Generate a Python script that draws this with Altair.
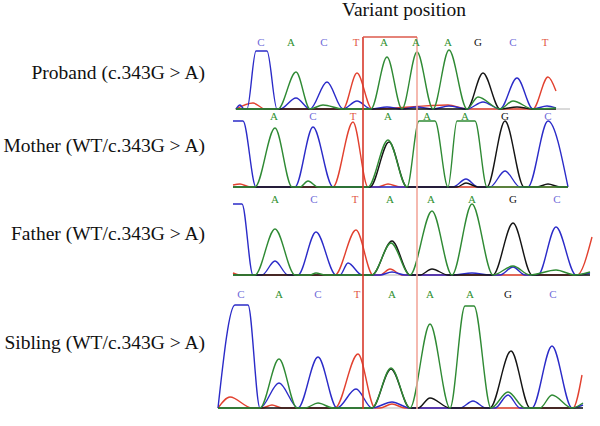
import altair as alt
import pandas as pd

# ---- sample rows (left-hand labels) -------------------------------------
SAMPLES = [
    "Proband (c.343G > A)",
    "Mother (WT/c.343G > A)",
    "Father (WT/c.343G > A)",
    "Sibling (WT/c.343G > A)",
]
# signal level of each track's baseline (in chart units, bottom = 0)
TRACK_BASE = [317, 239, 151, 18]
# vertical placement of the sample labels and the base-call rows
LABEL_LEVEL = [347, 274, 186, 77]
CALL_LEVEL = [383, 309, 226, 131]
# scan range covered by each track's baseline
TRACK_START = [235, 233, 233, 218]
TRACK_END = [570, 568, 590, 583]

# ---- base calls above each trace ------------------------------------------
PROBAND_CALLS = ["C", "A", "C", "T", "A", "A", "A", "G", "C", "T"]
PROBAND_CALL_POS = [261, 291, 324, 356, 384, 416, 448, 478, 513, 545]
MOTHER_CALLS = ["A", "C", "T", "A", "A", "A", "G", "C"]
MOTHER_CALL_POS = [274, 313, 353, 388, 427, 465, 505, 548]
FATHER_CALLS = ["A", "C", "T", "A", "A", "A", "G", "C"]
FATHER_CALL_POS = [275, 314, 355, 390, 431, 472, 513, 557]
SIBLING_CALLS = ["C", "A", "C", "T", "A", "A", "A", "G", "C"]
SIBLING_CALL_POS = [241, 279, 318, 357, 392, 430, 470, 508, 553]

# ---- fluorescence traces: (scan position, intensity above baseline) -----
PROBAND_A = [(236, 0), (278, 0), (296, 37), (310, 0), (323, 4), (343, 0), (371, 0), (387, 52),
             (402, 0), (417, 57), (433, 0), (449, 59), (467, 0), (478, 12), (500, 0), (513, 8),
             (533, 0), (556, 1)]
PROBAND_C = [(236, 0), (240, 4), (244, 0), (247, 0), (256, 58), (267, 58), (277, 0), (280, 0),
             (296, 11), (310, 0), (327, 27), (343, 0), (357, 8), (371, 0), (387, 2), (402, 0),
             (417, 2), (433, 0), (449, 3), (467, 0), (483, 7), (500, 0), (517, 31), (533, 0),
             (547, 3), (556, 1)]
PROBAND_G = [(236, 0), (467, 0), (483, 36), (500, 0), (517, 2), (533, 0), (556, 0)]
PROBAND_T = [(236, 0), (253, 6), (265, 0), (343, 0), (357, 36), (372, 0), (448, 4), (467, 0),
             (533, 0), (548, 32), (556, 18)]

MOTHER_A = [(233, 0), (255, 0), (275, 59), (292, 0), (300, 0), (308, 6), (318, 0), (368, 0),
            (388, 47), (407, 0), (419, 66), (435, 66), (448, 0), (457, 66), (475, 66), (487, 0),
            (568, 0)]
MOTHER_C = [(233, 66), (243, 66), (256, 0), (295, 0), (313, 60), (333, 0), (453, 0), (466, 8),
            (478, 0), (490, 0), (505, 16), (520, 0), (528, 0), (548, 66), (568, 0)]
MOTHER_G = [(233, 0), (370, 0), (389, 45), (407, 0), (457, 0), (466, 4), (478, 0), (487, 0),
            (505, 66), (524, 0), (537, 0), (548, 3), (560, 0), (568, 0)]
MOTHER_T = [(233, 2), (240, 3), (250, 0), (333, 0), (353, 65), (368, 0), (378, 0), (388, 3),
            (400, 0), (568, 0)]

FATHER_A = [(233, 0), (255, 0), (275, 46), (295, 0), (310, 0), (316, 2), (325, 0), (372, 0),
            (391, 32), (410, 0), (432, 64), (452, 0), (472, 71), (493, 0), (513, 9), (530, 0),
            (556, 5), (575, 0), (590, 3)]
FATHER_C = [(233, 71), (242, 71), (253, 0), (262, 0), (275, 14), (288, 0), (298, 0), (316, 43),
            (336, 0), (340, 0), (348, 12), (362, 0), (380, 0), (392, 3), (405, 0), (453, 0),
            (472, 2), (490, 0), (500, 0), (513, 8), (525, 0), (538, 0), (556, 48), (576, 0),
            (590, 2)]
FATHER_G = [(233, 0), (372, 0), (392, 34), (410, 0), (420, 0), (432, 6), (448, 0), (493, 0),
            (513, 52), (532, 0), (590, 0)]
FATHER_T = [(233, 2), (240, 0), (335, 0), (356, 45), (373, 0), (380, 0), (390, 6), (402, 0),
            (577, 0), (592, 38)]

SIBLING_A = [(218, 0), (260, 0), (279, 49), (297, 0), (305, 0), (318, 5), (333, 0), (372, 0),
             (391, 40), (410, 0), (430, 84), (450, 0), (465, 102), (474, 102), (491, 0),
             (508, 16), (525, 0), (540, 0), (552, 13), (572, 0), (583, 5)]
SIBLING_C = [(218, 0), (235, 103), (248, 103), (260, 0), (279, 25), (298, 0), (318, 51),
             (337, 0), (356, 19), (372, 0), (392, 6), (410, 0), (460, 0), (473, 7), (486, 0),
             (495, 0), (508, 13), (520, 0), (532, 0), (552, 62), (572, 0), (583, 3)]
SIBLING_G = [(218, 0), (372, 0), (391, 39), (410, 0), (418, 0), (430, 10), (450, 0), (490, 0),
             (511, 57), (530, 0), (583, 0)]
SIBLING_T = [(218, 0), (230, 11), (252, 0), (262, 0), (272, 3), (282, 0), (335, 0), (358, 54),
             (375, 0), (380, 0), (392, 4), (405, 0), (573, 0), (582, 33)]

# ---- variant window ---------------------------------------------------------
VARIANT_LEFT = 363
VARIANT_RIGHT = 417
VARIANT_TOP = 389
VARIANT_BOTTOM = 17
TITLE = "Variant position"
TITLE_POS = (404, 410)

# ---- styling ----------------------------------------------------------------
TRACE_COLORS = {"A": "#2f8a34", "C": "#2b2bc8", "G": "#141414", "T": "#e2412f"}
CALL_COLORS = {"A": "#2f8f2f", "C": "#6e6ad8", "G": "#111111", "T": "#e2563f"}
SERIF = "Liberation Serif"

# ---- assemble tables ---------------------------------------------------------
traces = [
    (PROBAND_A, PROBAND_C, PROBAND_G, PROBAND_T),
    (MOTHER_A, MOTHER_C, MOTHER_G, MOTHER_T),
    (FATHER_A, FATHER_C, FATHER_G, FATHER_T),
    (SIBLING_A, SIBLING_C, SIBLING_G, SIBLING_T),
]
rows = []
for i, per_channel in enumerate(traces):
    for ch, pts in zip(["A", "C", "G", "T"], per_channel):
        for k, (x, h) in enumerate(pts):
            rows.append({"scan": x, "level": TRACK_BASE[i] + h, "channel": ch,
                         "track": i, "k": k})
trace_df = pd.DataFrame(rows)

calls = [
    (PROBAND_CALLS, PROBAND_CALL_POS),
    (MOTHER_CALLS, MOTHER_CALL_POS),
    (FATHER_CALLS, FATHER_CALL_POS),
    (SIBLING_CALLS, SIBLING_CALL_POS),
]
call_rows = []
for i, (bases, pos) in enumerate(calls):
    for b, x in zip(bases, pos):
        call_rows.append({"scan": x, "level": CALL_LEVEL[i], "base": b,
                          "hex": CALL_COLORS[b]})
call_df = pd.DataFrame(call_rows)

label_df = pd.DataFrame({"sample": SAMPLES, "level": LABEL_LEVEL})
track_df = pd.DataFrame({"start": TRACK_START, "end": TRACK_END, "level": TRACK_BASE})
title_df = pd.DataFrame({"scan": [TITLE_POS[0]], "level": [TITLE_POS[1]], "text": [TITLE]})
box_df = pd.DataFrame({
    "x": [VARIANT_LEFT, VARIANT_RIGHT, VARIANT_LEFT],
    "x2": [VARIANT_LEFT, VARIANT_RIGHT, VARIANT_RIGHT],
    "y": [VARIANT_BOTTOM, VARIANT_BOTTOM, VARIANT_TOP],
    "y2": [VARIANT_TOP, VARIANT_TOP, VARIANT_TOP],
    "hex": ["#d8392b", "#f3a89c", "#dc5a4c"],
})

X = alt.Scale(domain=[0, 600], nice=False, zero=False)
Y = alt.Scale(domain=[0, 426], nice=False, zero=False)

baselines = alt.Chart(track_df).mark_rule(color="#b4b4b4", strokeWidth=1).encode(
    x=alt.X("start:Q", scale=X, axis=None),
    x2="end:Q",
    y=alt.Y("level:Q", scale=Y, axis=None),
)


def channel_layer(ch):
    """One dye channel across all four tracks."""
    return alt.Chart(trace_df[trace_df.channel == ch]).mark_line(
        interpolate="monotone", strokeWidth=1.4, color=TRACE_COLORS[ch]
    ).encode(
        x=alt.X("scan:Q", scale=X, axis=None),
        y=alt.Y("level:Q", scale=Y, axis=None),
        detail="track:N",
        order="k:Q",
    )


# red first, green last, so the flat stretches read dark/green
lines = [channel_layer(ch) for ch in ["T", "C", "G", "A"]]

box = alt.Chart(box_df).mark_rule(strokeWidth=1.6).encode(
    x=alt.X("x:Q", scale=X, axis=None), x2="x2:Q",
    y=alt.Y("y:Q", scale=Y, axis=None), y2="y2:Q",
    color=alt.Color("hex:N", scale=None),
)

call_text = alt.Chart(call_df).mark_text(
    font=SERIF, fontSize=11, baseline="middle", align="center"
).encode(
    x=alt.X("scan:Q", scale=X, axis=None),
    y=alt.Y("level:Q", scale=Y, axis=None),
    text="base:N",
    color=alt.Color("hex:N", scale=None),
)

labels = alt.Chart(label_df).mark_text(
    font=SERIF, fontSize=19.5, align="right", baseline="alphabetic", color="#111111"
).encode(
    x=alt.value(205),
    y=alt.Y("level:Q", scale=Y, axis=None),
    text="sample:N",
)

title = alt.Chart(title_df).mark_text(
    font=SERIF, fontSize=19.5, align="center", baseline="alphabetic", color="#111111"
).encode(
    x=alt.X("scan:Q", scale=X, axis=None),
    y=alt.Y("level:Q", scale=Y, axis=None),
    text="text:N",
)

chart = alt.layer(baselines, *lines, box, call_text, labels, title).properties(
    width=600, height=426, padding=0, autosize=alt.AutoSizeParams(type="none"),
    background="white",
).configure_view(stroke=None)

chart.save("out.html", embed_options={"renderer": "svg", "actions": False})
